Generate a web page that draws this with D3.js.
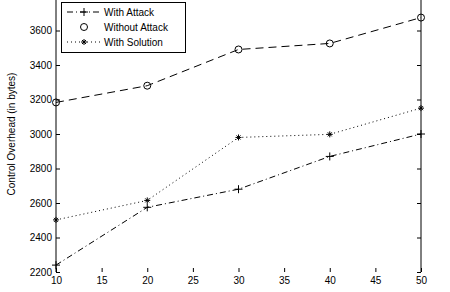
<!DOCTYPE html>
<html>
<head>
<meta charset="utf-8">
<script src="https://cdn.jsdelivr.net/npm/d3@7"></script>
<style>
  body { margin: 0; background: #fff; }
  svg { display: block; font-family: "Liberation Sans", Arial, sans-serif; }
</style>
</head>
<body>
<svg id="chart"></svg>
<script>
const xValues = [10, 20, 30, 40, 50];
const withAttack = [2240, 2575, 2680, 2870, 3000];
const withoutAttack = [3183, 3280, 3490, 3525, 3675];
const withSolution = [2502, 2615, 2980, 2998, 3150];
const xTicks = [10, 15, 20, 25, 30, 35, 40, 45, 50];
const yTicks = [2200, 2400, 2600, 2800, 3000, 3200, 3400, 3600];
const seriesNames = ["With Attack", "Without Attack", "With Solution"];

const width = 450, height = 292;
const margin = { left: 56, right: 29, top: -4, bottom: 20 };

let svg = d3.select("#chart")
    .attr("width", width)
    .attr("height", height);

let x = d3.scaleLinear()
    .domain([10, 50])
    .range([margin.left, width - margin.right]);

let y = d3.scaleLinear()
    .domain([2200, 3800])
    .range([height - margin.bottom, margin.top]);

// axes (MATLAB style, ticks inward)
let yAxis = g => g
    .attr("transform", `translate(${margin.left},0)`)
    .call(d3.axisLeft(y).tickValues(yTicks).tickFormat(d3.format("d")).tickSize(-4).tickPadding(4).tickSizeOuter(0))
    .call(g => g.select(".domain").attr("d", `M0,${y(2200)}V${y(3800)}`));

let yAxisRight = g => g
    .attr("transform", `translate(${width - margin.right},0)`)
    .call(d3.axisRight(y).tickValues(yTicks).tickSize(-4).tickFormat("").tickSizeOuter(0))
    .call(g => g.select(".domain").attr("d", `M0,${y(2200)}V${y(3800)}`));

let xAxis = g => g
    .attr("transform", `translate(0,${y(2200)})`)
    .call(d3.axisBottom(x).tickValues(xTicks).tickFormat(d3.format("d")).tickSize(-4).tickPadding(5).tickSizeOuter(0))
    .call(g => g.select(".domain").remove());

svg.append("g").call(yAxis);
svg.append("g").call(yAxisRight);
svg.append("g").call(xAxis);

svg.selectAll(".tick text")
    .attr("font-size", 10)
    .attr("font-family", "Liberation Sans, Arial, sans-serif")
    .attr("fill", "#000");
svg.selectAll(".tick line, .domain").attr("stroke", "#000");

// y label
svg.append("text")
    .attr("transform", "translate(15,134) rotate(-90)")
    .attr("text-anchor", "middle")
    .attr("font-size", 10)
    .text("Control Overhead (in bytes)");

let line = d3.line()
    .x((d, i) => x(xValues[i]))
    .y(d => y(d));

let styles = [
    { data: withAttack, dash: "6,3,1,3", marker: "plus" },
    { data: withoutAttack, dash: "8,5", marker: "circle" },
    { data: withSolution, dash: "1,3", marker: "star" }
];

function drawMarker(g, type, cx, cy) {
    if (type === "plus") {
        g.append("path")
            .attr("d", `M${cx - 4},${cy}H${cx + 4}M${cx},${cy - 4}V${cy + 4}`)
            .attr("stroke", "#000");
    } else if (type === "circle") {
        g.append("circle")
            .attr("cx", cx).attr("cy", cy).attr("r", 3.5)
            .attr("fill", "none").attr("stroke", "#000");
    } else {
        g.append("path")
            .attr("d", `M${cx - 3},${cy}H${cx + 3}M${cx},${cy - 3}V${cy + 3}M${cx - 2},${cy - 2}L${cx + 2},${cy + 2}M${cx - 2},${cy + 2}L${cx + 2},${cy - 2}`)
            .attr("stroke", "#000");
    }
}

let plot = svg.append("g");
styles.forEach(s => {
    plot.append("path")
        .datum(s.data)
        .attr("d", line)
        .attr("fill", "none")
        .attr("stroke", "#000")
        .attr("stroke-width", 1)
        .attr("stroke-dasharray", s.dash);
    s.data.forEach((v, i) => drawMarker(plot, s.marker, x(xValues[i]), y(v)));
});

// legend
let legend = svg.append("g");
legend.append("rect")
    .attr("x", 61.5).attr("y", 2.5)
    .attr("width", 124).attr("height", 50)
    .attr("fill", "#fff").attr("stroke", "#000");

seriesNames.forEach((name, i) => {
    let ly = 12 + i * 15;
    if (i !== 1) {
        legend.append("line")
            .attr("x1", 67).attr("x2", 100)
            .attr("y1", ly).attr("y2", ly)
            .attr("stroke", "#000")
            .attr("stroke-dasharray", styles[i].dash);
    }
    drawMarker(legend, styles[i].marker, 84, ly);
    legend.append("text")
        .attr("x", 104).attr("y", ly + 3.5)
        .attr("font-size", 10)
        .text(name);
});
</script>
</body>
</html>
